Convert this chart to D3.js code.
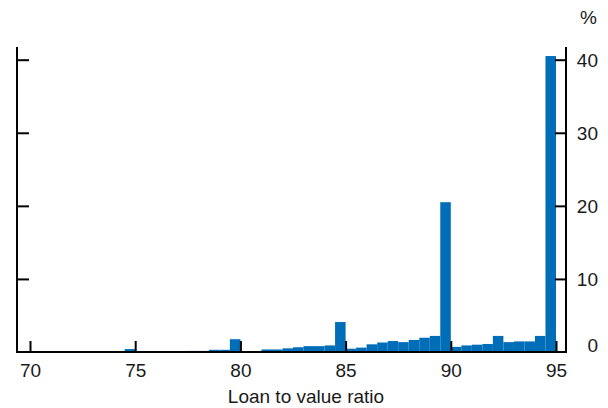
<!DOCTYPE html>
<html>
<head>
<meta charset="utf-8">
<script src="https://cdn.jsdelivr.net/npm/d3@7"></script>
<style>
  html, body { margin: 0; padding: 0; background: #fff; }
  svg { display: block; }
  text { font-family: "Liberation Sans", Arial, sans-serif; fill: #1a1a1a; }
</style>
</head>
<body>
<svg id="chart" width="608" height="408"></svg>
<script>
// Bins of width 0.5; each bin is identified by its upper edge (loan to value ratio, %)
const binUpperEdges = [75, 78, 78.5, 79, 79.5, 80, 80.5, 81, 81.5, 82, 82.5, 83, 83.5, 84, 84.5, 85,
                       85.5, 86, 86.5, 87, 87.5, 88, 88.5, 89, 89.5, 90,
                       90.5, 91, 91.5, 92, 92.5, 93, 93.5, 94, 94.5, 95];
const shareValues   = [0.4, 0.15, 0.15, 0.3, 0.3, 1.75, 0.1, 0.1, 0.35, 0.35, 0.5, 0.65, 0.8, 0.8, 0.9, 4.1,
                       0.45, 0.6, 1.05, 1.3, 1.5, 1.35, 1.65, 1.95, 2.2, 20.5,
                       0.7, 0.9, 1.0, 1.1, 2.2, 1.35, 1.45, 1.45, 2.2, 40.5];
const binWidth = 0.5;
const xTickValues = [70, 75, 80, 85, 90, 95];
const yTickValues = [0, 10, 20, 30, 40];
const xTitle = "Loan to value ratio";
const yUnit = "%";

const svg = d3.select("#chart");
const plotLeft = 17, plotRight = 566, plotTop = 47, plotBottom = 352;
const barColor = "#006db8";
const fontSize = "19px";

const x = d3.scaleLinear().domain([70, 95]).range([30, 556]);
const y = d3.scaleLinear().domain([0, 40]).range([plotBottom, 59.7]);

// bars
svg.append("g").selectAll("rect")
  .data(binUpperEdges.map((e, i) => ({ e, v: shareValues[i] })))
  .join("rect")
  .attr("x", d => x(d.e - binWidth))
  .attr("width", d => x(d.e) - x(d.e - binWidth))
  .attr("y", d => y(d.v))
  .attr("height", d => y(0) - y(d.v))
  .attr("fill", barColor);

const axStroke = g => {
  g.selectAll("path.domain").remove();
  g.selectAll("line").attr("stroke", "#000").attr("stroke-width", 2);
};

// left axis (ticks pointing inwards, no labels)
svg.append("g").attr("transform", `translate(${plotLeft},0)`)
  .call(d3.axisRight(y).tickValues(yTickValues.filter(v => v > 0)).tickSize(12).tickFormat(""))
  .call(axStroke);

// right axis ticks (inwards)
svg.append("g").attr("transform", `translate(${plotRight},0)`)
  .call(d3.axisLeft(y).tickValues(yTickValues.filter(v => v > 0)).tickSize(11).tickFormat(""))
  .call(axStroke);

// right axis labels
const yLab = svg.append("g").attr("transform", `translate(${plotRight},0)`)
  .call(d3.axisRight(y).tickValues(yTickValues).tickSize(0).tickFormat(d3.format("d")));
yLab.selectAll("path.domain").remove();
yLab.selectAll("text")
  .attr("x", 32).attr("text-anchor", "end")
  .attr("dy", d => d === 0 ? "-0.02em" : "0.36em")
  .style("font-size", fontSize).style("font-family", "Liberation Sans, Arial, sans-serif")
  .attr("fill", "#1a1a1a");

// x axis ticks (upwards)
svg.append("g").attr("transform", `translate(0,${plotBottom})`)
  .call(d3.axisTop(x).tickValues(xTickValues).tickSize(11).tickFormat(""))
  .call(axStroke);

// x axis labels
const xLab = svg.append("g").attr("transform", `translate(0,${plotBottom})`)
  .call(d3.axisBottom(x).tickValues(xTickValues).tickSize(0).tickFormat(d3.format("d")));
xLab.selectAll("path.domain").remove();
xLab.selectAll("text")
  .attr("y", 25).attr("dy", 0)
  .style("font-size", fontSize).style("font-family", "Liberation Sans, Arial, sans-serif")
  .attr("fill", "#1a1a1a");

// frame lines: left, right, bottom
svg.append("line").attr("x1", plotLeft).attr("x2", plotLeft).attr("y1", plotTop).attr("y2", plotBottom + 1)
  .attr("stroke", "#000").attr("stroke-width", 2);
svg.append("line").attr("x1", plotRight).attr("x2", plotRight).attr("y1", plotTop).attr("y2", plotBottom + 1)
  .attr("stroke", "#000").attr("stroke-width", 2);
svg.append("line").attr("x1", plotLeft - 1).attr("x2", plotRight + 1).attr("y1", plotBottom).attr("y2", plotBottom)
  .attr("stroke", "#000").attr("stroke-width", 2);

// titles
svg.append("text").attr("x", 306).attr("y", 403).attr("text-anchor", "middle")
  .style("font-size", fontSize).text(xTitle);
svg.append("text").attr("x", 597).attr("y", 24).attr("text-anchor", "end")
  .style("font-size", fontSize).text(yUnit);
</script>
</body>
</html>
